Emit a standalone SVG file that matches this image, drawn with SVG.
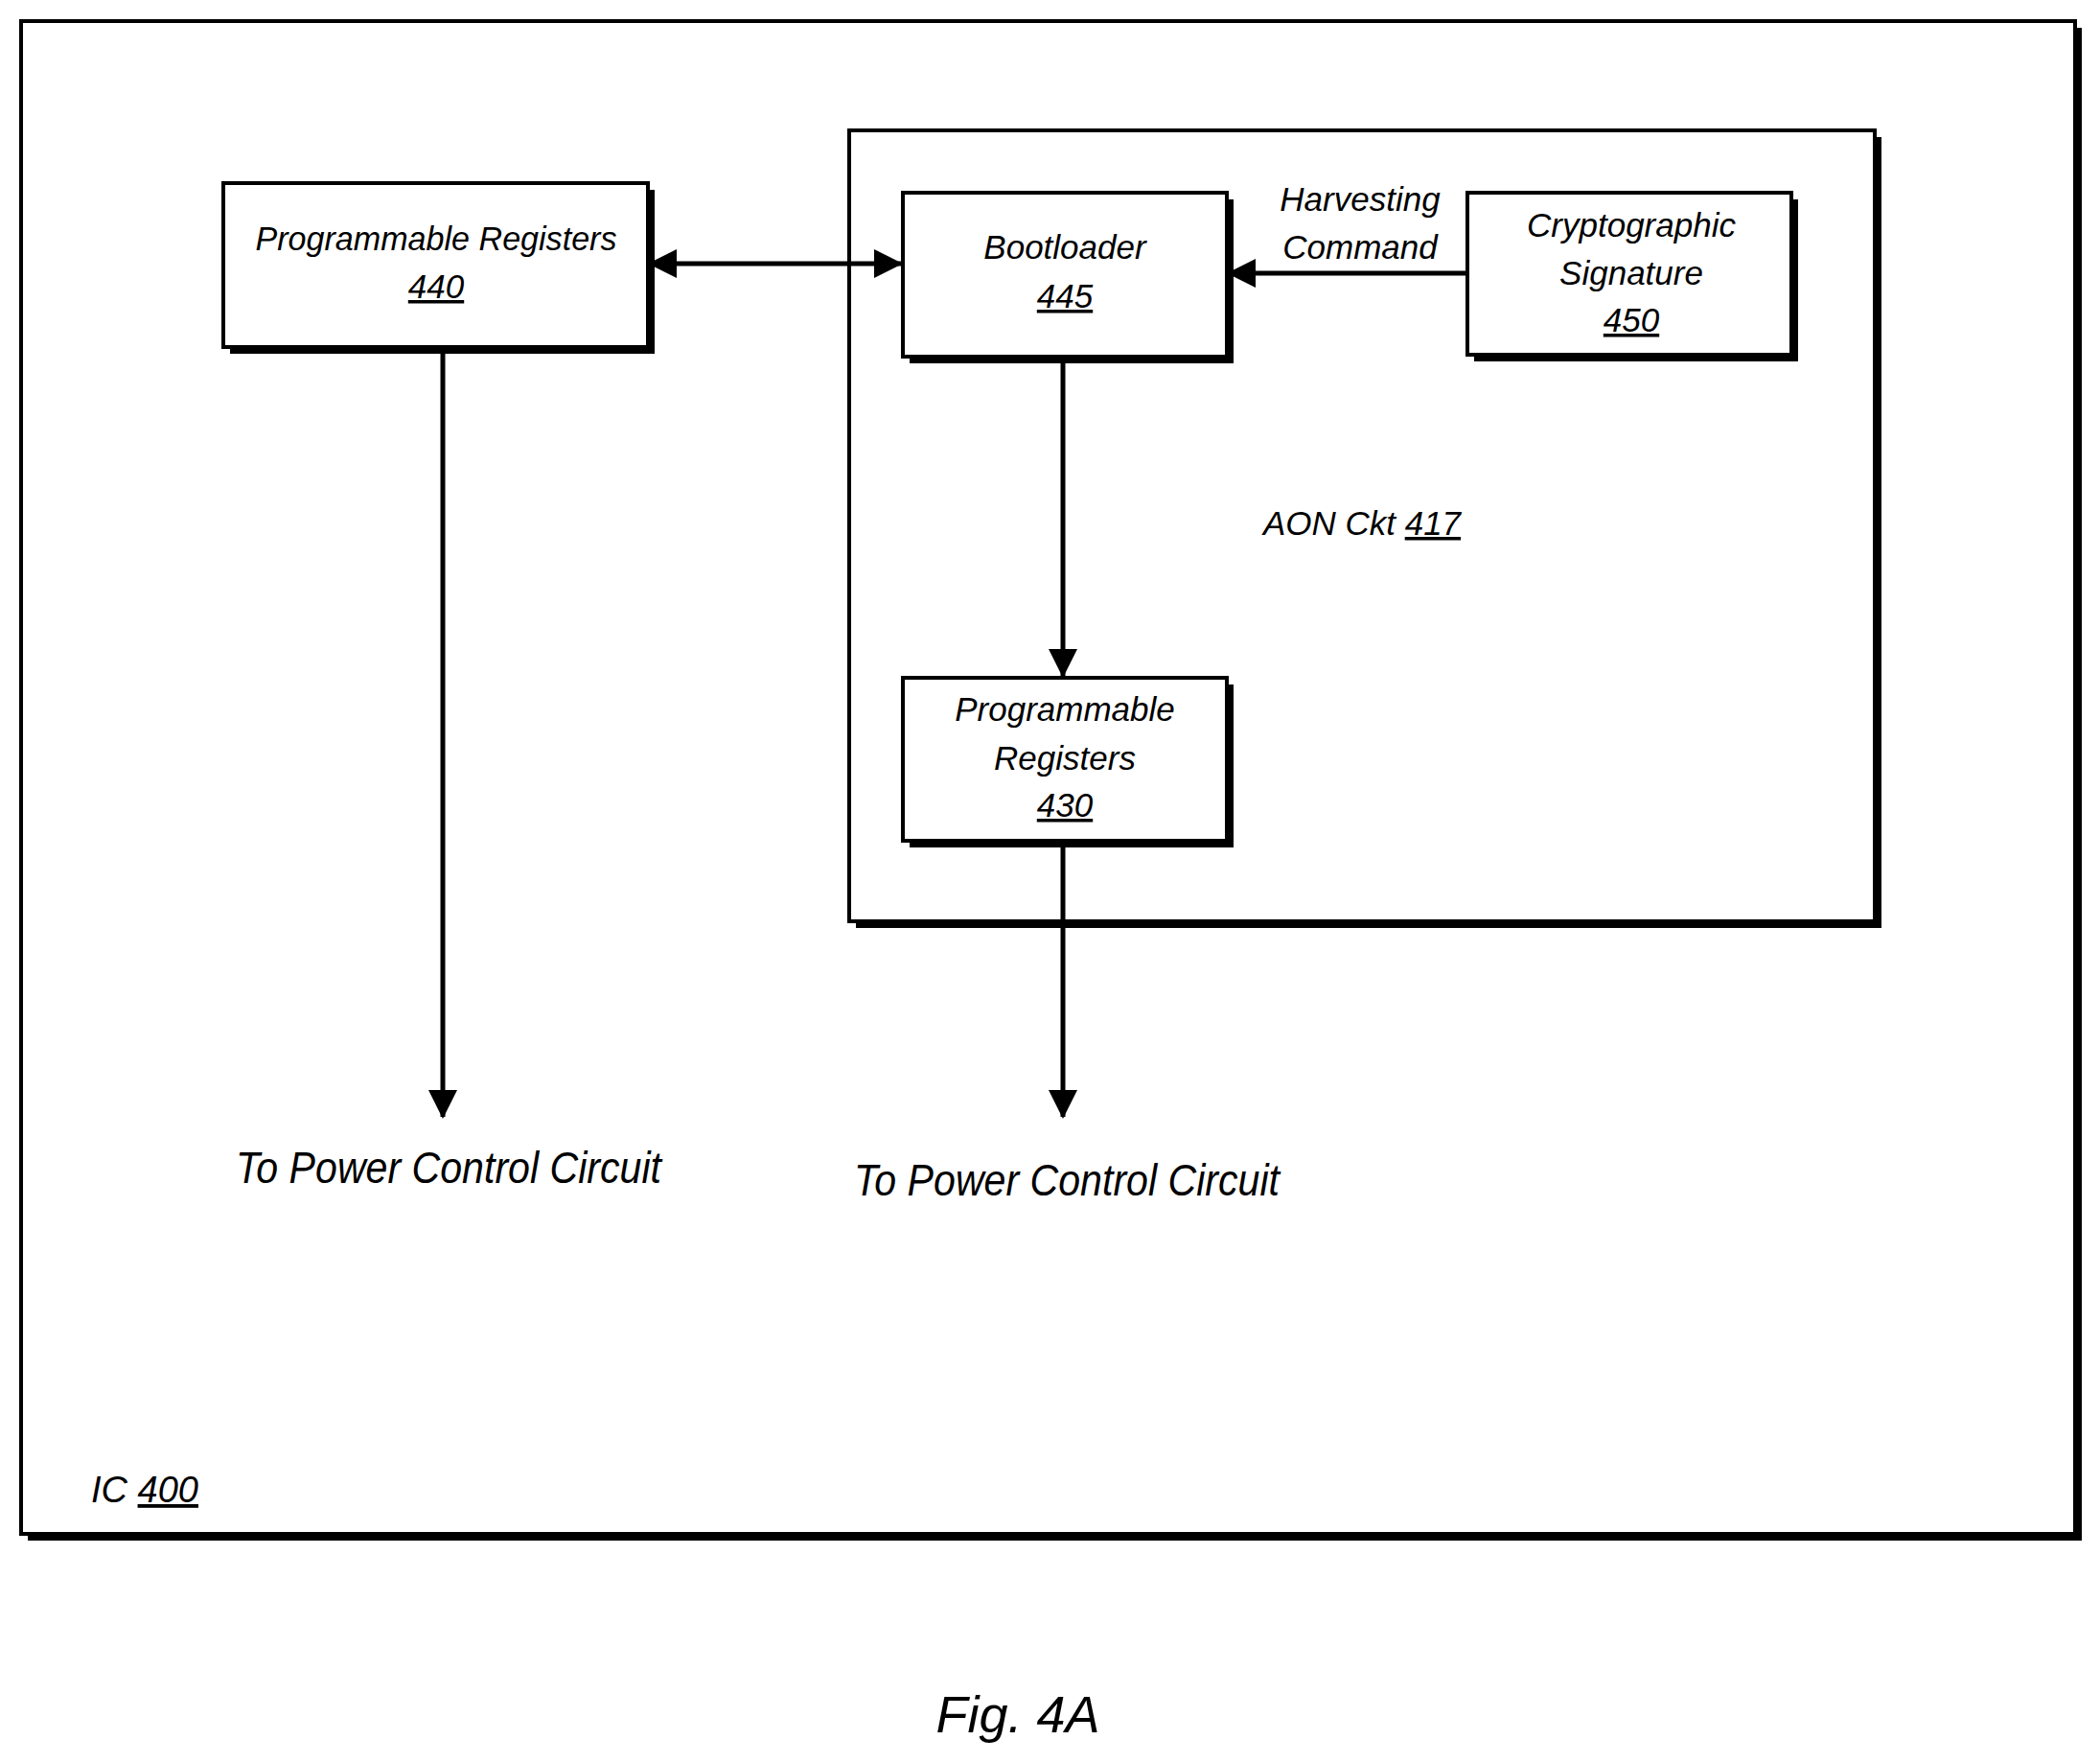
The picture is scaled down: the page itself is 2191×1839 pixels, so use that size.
<svg xmlns="http://www.w3.org/2000/svg" width="2191" height="1839" viewBox="0 0 2191 1839">
<style>
text{font-family:"Liberation Sans Narrow","Liberation Sans",sans-serif;font-style:italic;fill:#000;text-anchor:middle}
.b{font-size:35px}.big{font-size:46px}
.box{fill:#fff;stroke:#000;stroke-width:4}
.sh{fill:#000}
.c{stroke:#000;stroke-width:5;fill:none}
</style>
<defs><marker id="a" markerWidth="30" markerHeight="30" refX="28" refY="15" orient="auto-start-reverse" markerUnits="userSpaceOnUse" viewBox="0 0 30 30"><path d="M0,0L30,15L0,30z" fill="#000"/></marker></defs>
<rect width="2191" height="1839" fill="#fff"/>
<g id="ic400"><rect class="sh" x="29" y="29" width="2143" height="1578"/><rect class="box" x="22" y="22" width="2143" height="1578"/>
<text class="b" x="95" y="1567" style="text-anchor:start;font-size:38px">IC <tspan text-decoration="underline">400</tspan></text></g>
<g id="aon417"><rect class="sh" x="893" y="143" width="1070" height="825"/><rect class="box" x="886" y="136" width="1070" height="825"/>
<text class="b" x="1421" y="558">AON Ckt <tspan text-decoration="underline">417</tspan></text></g>
<g id="pr440"><rect class="sh" x="240" y="198" width="443" height="171"/><rect class="box" x="233" y="191" width="443" height="171"/>
<text class="b" x="455" y="261" textLength="377" lengthAdjust="spacingAndGlyphs">Programmable Registers</text><text class="b" x="455" y="311" text-decoration="underline">440</text></g>
<g id="boot445"><rect class="sh" x="949" y="208" width="338" height="171"/><rect class="box" x="942" y="201" width="338" height="171"/>
<text class="b" x="1111" y="270">Bootloader</text><text class="b" x="1111" y="321" text-decoration="underline">445</text></g>
<g id="crypto450"><rect class="sh" x="1538" y="208" width="338" height="169"/><rect class="box" x="1531" y="201" width="338" height="169"/>
<text class="b" x="1702" y="247">Cryptographic</text><text class="b" x="1702" y="297">Signature</text><text class="b" x="1702" y="346" text-decoration="underline">450</text></g>
<g id="pr430"><rect class="sh" x="949" y="714" width="338" height="170"/><rect class="box" x="942" y="707" width="338" height="170"/>
<text class="b" x="1111" y="752">Programmable</text><text class="b" x="1111" y="803">Registers</text><text class="b" x="1111" y="852" text-decoration="underline">430</text></g>
<g id="connectors">
<line class="c" x1="678" y1="275" x2="940" y2="275" marker-start="url(#a)" marker-end="url(#a)"/>
<line class="c" x1="1531" y1="285" x2="1282" y2="285" marker-end="url(#a)"/>
<line class="c" x1="1109" y1="372" x2="1109" y2="705" marker-end="url(#a)"/>
<line class="c" x1="1109" y1="877" x2="1109" y2="1165" marker-end="url(#a)"/>
<line class="c" x1="462" y1="362" x2="462" y2="1165" marker-end="url(#a)"/>
<text class="b" x="1419" y="220">Harvesting</text><text class="b" x="1419" y="270">Command</text>
</g>
<text class="big" x="468" y="1234" textLength="444" lengthAdjust="spacingAndGlyphs">To Power Control Circuit</text>
<text class="big" x="1113" y="1247" textLength="444" lengthAdjust="spacingAndGlyphs">To Power Control Circuit</text>
<text style="font-size:54px" x="1062" y="1807">Fig. 4A</text>
</svg>
